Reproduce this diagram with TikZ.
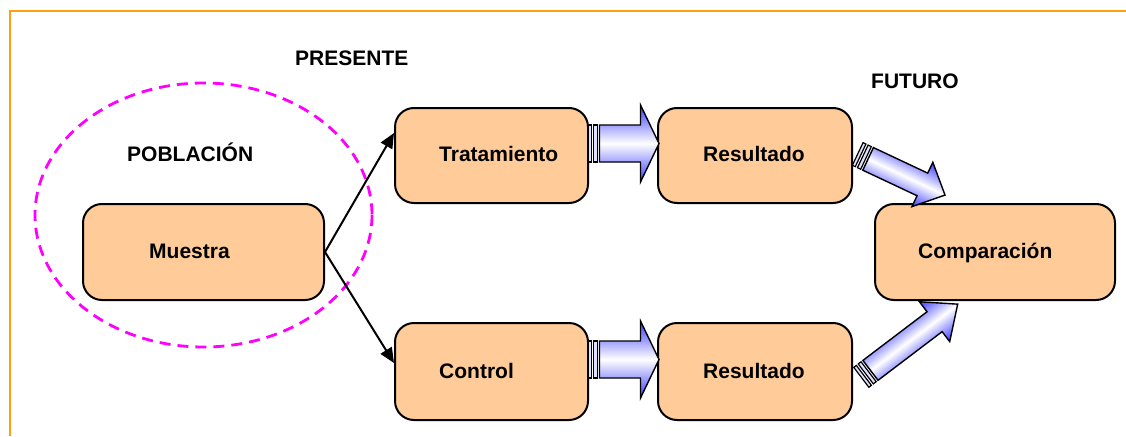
\documentclass[tikz,border=0pt]{standalone}
\usepackage{fontspec}
\setmainfont{Liberation Sans}
\usetikzlibrary{arrows.meta,calc}

\definecolor{peach}{RGB}{255,204,153}
\definecolor{frameorange}{RGB}{255,160,20}
\definecolor{arrowblue}{RGB}{60,60,255}
\definecolor{stripefill}{RGB}{225,225,255}

% Striped block arrow drawn in its own frame: tail centre #1, direction #2 (degrees),
% total length #3, shaft half-width #4, head half-width #5, head length #6.
\newcommand\stripedarrow[6]{%
  \begin{scope}[transform canvas={shift={#1},rotate=#2}]
    \path[blockarrow]
      (11.5,-#4) -- ({#3-#6},-#4) -- ({#3-#6},-#5) -- (#3,0)
      -- ({#3-#6},#5) -- ({#3-#6},#4) -- (11.5,#4) -- cycle;
    \path[stripe] (0,-#4) rectangle (3.2,#4);
    \path[stripe] (5.6,-#4) rectangle (9.2,#4);
  \end{scope}}

\begin{document}
\begin{tikzpicture}[x=1pt,y=-1pt,
  box/.style={rectangle, draw=black, line width=2pt, fill=peach,
    rounded corners=19pt, inner sep=0pt},
  lbl/.style={font=\bfseries\fontsize{21}{25}\selectfont, inner sep=0pt,
    anchor=base west},
  link/.style={line width=2pt, -{Triangle[length=15pt,width=13pt]}},
  blockarrow/.style={draw=black, line width=1.4pt, line join=miter,
    top color=arrowblue, bottom color=arrowblue, middle color=white},
  stripe/.style={draw=black, line width=1.2pt, fill=stripefill},
  population/.style={draw={rgb,255:red,255;green,0;blue,255}, line width=2.8pt,
    dash pattern=on 11pt off 7pt}]

\useasboundingbox (0,0) rectangle (1126,436);

% frame lines
\draw[frameorange, line width=2pt] (9.5,436) -- (9.5,11) -- (1126,11);

% population boundary
\draw[population] (203.5,215) ellipse [x radius=168.5, y radius=132];

% boxes
\node[box, minimum width=241pt, minimum height=96pt] (muestra) at (203.5,252) {};
\node[box, minimum width=193pt, minimum height=95pt] (trat) at (491.5,155.5) {};
\node[box, minimum width=194pt, minimum height=95pt] (res1) at (755,155.5) {};
\node[box, minimum width=193pt, minimum height=97pt] (control) at (491.5,371.5) {};
\node[box, minimum width=194pt, minimum height=97pt] (res2) at (755,371.5) {};
\node[box, minimum width=240pt, minimum height=96pt] (comp) at (995,252) {};

% texts
\node[lbl] (tPresente) at (295,66) {PRESENTE};
\node[lbl] (tFuturo) at (871,88.3) {FUTURO};
\node[lbl] (tPoblacion) at (127,161.7) {POBLACIÓN};
\node[lbl] (tMuestra) at (149,258.3) {Muestra};
\node[lbl] (tTrat) at (439,161.7) {Tratamiento};
\node[lbl] (tRes1) at (703,161.7) {Resultado};
\node[lbl] (tControl) at (439,378) {Control};
\node[lbl] (tRes2) at (703,378) {Resultado};
\node[lbl] (tComp) at (918,258.3) {Comparación};

% allocation lines
\draw[link] (muestra.east) -- ($(trat.west)+(0,-22.5)$);
\draw[link] (muestra.east) -- ($(control.west)+(0,-8.5)$);

% block arrows
\stripedarrow{($(trat.east)+(-1,-12)$)}{0}{71}{18.5}{38.5}{18.5}
\stripedarrow{($(control.east)+(-1,-12)$)}{0}{71}{18.5}{38.5}{18.5}
\stripedarrow{($(res1.east)+(4.7,-1.5)$)}{-25.2}{96.5}{12.5}{24.5}{25}
\stripedarrow{($(res2.east)+(8.3,5.8)$)}{37.2}{121}{12.5}{25}{29}

\end{tikzpicture}
\end{document}
